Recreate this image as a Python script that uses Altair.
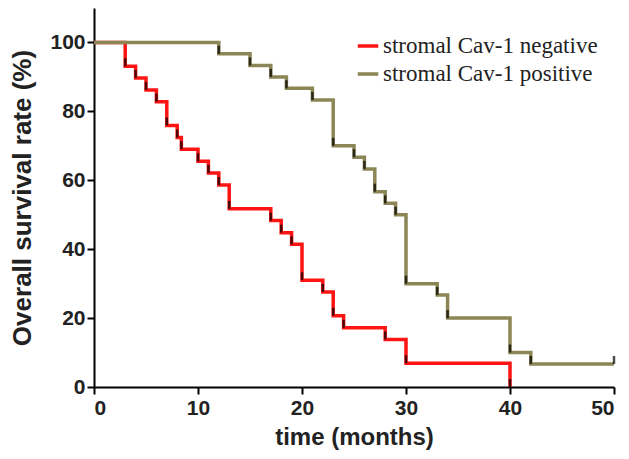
import altair as alt
import pandas as pd

groups = ["stromal Cav-1 negative", "stromal Cav-1 positive"]
colors = ["#ff1414", "#8c8656"]

neg_t = [0, 3, 4, 5, 6, 7, 8, 8.4, 10, 11, 12, 13, 17, 18, 19, 20, 22, 23, 24, 28, 30, 40]
neg_s = [100, 93.1, 89.7, 86.2, 82.8, 75.9, 72.4, 69.0, 65.5, 62.1, 58.6, 51.7,
         48.3, 44.8, 41.4, 31.0, 27.6, 20.7, 17.2, 13.8, 6.9, 0]

pos_t = [0, 12, 15, 17, 18.5, 21, 23, 25, 26, 27, 28, 29, 30, 33, 34, 40, 42, 50]
pos_s = [100, 96.7, 93.3, 90, 86.7, 83.3, 70, 66.7, 63.3, 56.7, 53.3, 50, 30,
         26.7, 20, 10, 6.7, 6.7]

x_ticks = [0, 10, 20, 30, 40, 50]
y_ticks = [0, 20, 40, 60, 80, 100]

rows = []
for t, s in zip(neg_t, neg_s):
    rows.append({"t": t, "s": s, "g": groups[0]})
for t, s in zip(pos_t, pos_s):
    rows.append({"t": t, "s": s, "g": groups[1]})
df = pd.DataFrame(rows)
df["order"] = range(len(df))
marks_df = df[df["t"] > 0]

x_enc = alt.X("t:Q", scale=alt.Scale(domain=[0, 50], nice=False),
              axis=alt.Axis(values=x_ticks, title="time (months)", grid=False))
y_enc = alt.Y("s:Q", scale=alt.Scale(domain=[0, 110], nice=False),
              axis=alt.Axis(values=y_ticks, title="Overall survival rate (%)", grid=False,
                            titleFontSize=26))

lines = alt.Chart(df).mark_line(interpolate="step-after", strokeWidth=3.5).encode(
    x=x_enc, y=y_enc,
    color=alt.Color("g:N", scale=alt.Scale(domain=groups, range=colors),
                    legend=alt.Legend(title=None, orient="none", legendX=262, legendY=26,
                                      symbolType="stroke", symbolSize=420,
                                      symbolStrokeWidth=3.5, labelFont="Liberation Serif",
                                      labelFontSize=23, labelColor="#222", labelLimit=400,
                                      rowPadding=4, labelOffset=3)),
    order="order:Q",
    detail="g:N",
)

ticks = alt.Chart(marks_df).mark_tick(orient="vertical", size=8, thickness=2.5,
                                      color="black", yOffset=-4).encode(
    x="t:Q", y="s:Q"
)

chart = alt.layer(lines, ticks).properties(
    width=520, height=379,
    autosize=alt.AutoSizeParams(type="none"),
    padding={"left": 86, "top": 0, "right": 7, "bottom": 64},
).configure_view(stroke=None).configure_axis(
    domainColor="black", domainWidth=2, tickColor="black", tickWidth=2, tickSize=7,
    labelFont="Liberation Sans", labelFontWeight="bold", labelFontSize=21,
    labelColor="#222", titleFont="Liberation Sans", titleFontWeight="bold",
    titleFontSize=24, titleColor="#222",
).configure_axisX(labelPadding=3, titlePadding=7).configure_axisY(labelPadding=2, titlePadding=14)

chart.save("out.html", embed_options={"renderer": "svg", "actions": False})
